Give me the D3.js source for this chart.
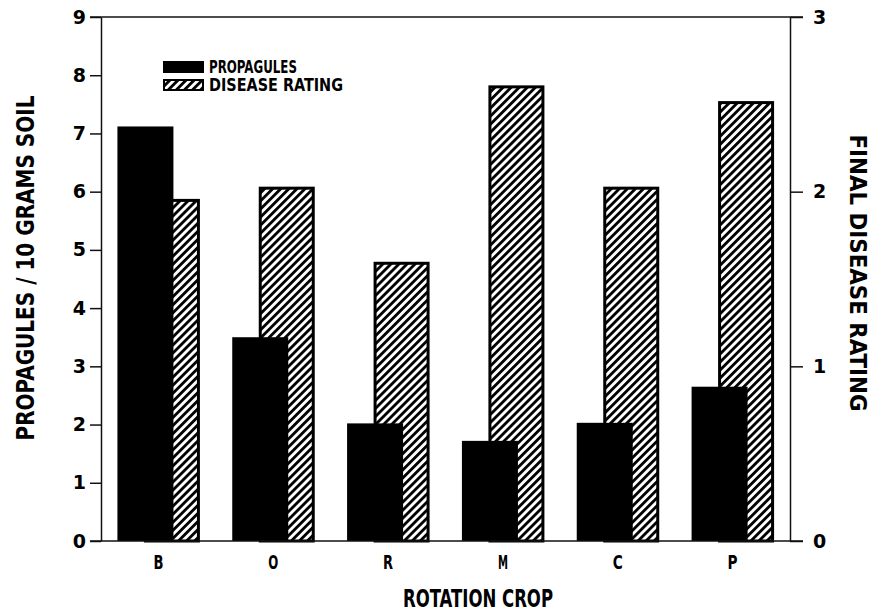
<!DOCTYPE html>
<html>
<head>
<meta charset="utf-8">
<script src="https://cdn.jsdelivr.net/npm/d3@7"></script>
<style>
  body { margin: 0; background: #fff; }
  svg { display: block; }
  .tick text { font-family: "DejaVu Sans", "Liberation Sans", sans-serif; font-weight: bold; }
</style>
</head>
<body>
<div id="chart"></div>
<script>
// data
const crops = ["B", "O", "R", "M", "C", "P"];
const propagules = [7.12, 3.5, 2.02, 1.72, 2.03, 2.65];      // left axis
const diseaseRating = [1.95, 2.02, 1.59, 2.6, 2.02, 2.51];    // right axis
const leftTicks = [0, 1, 2, 3, 4, 5, 6, 7, 8, 9];
const rightTicks = [0, 1, 2, 3];

const width = 873;
const height = 612;
const plotLeft = 101, plotRight = 790, plotTop = 17, plotBottom = 541;
const condensed = '"DejaVu Sans Condensed", "Liberation Sans Narrow", sans-serif';

const svg = d3.select("#chart").append("svg").attr("width", width).attr("height", height);

// hatch pattern "/"
svg.append("defs").append("pattern")
    .attr("id", "hatch")
    .attr("patternUnits", "userSpaceOnUse")
    .attr("width", 5.7).attr("height", 10)
    .attr("patternTransform", "rotate(45)")
  .append("rect")
    .attr("width", 2.8).attr("height", 10)
    .attr("fill", "#000");

const x = d3.scaleBand().domain(crops).range([plotLeft, plotRight]);
const yL = d3.scaleLinear().domain([0, 9]).range([plotBottom, plotTop]);
const yR = d3.scaleLinear().domain([0, 3]).range([plotBottom, plotTop]);

const rows = crops.map((c, i) => ({ crop: c, prop: propagules[i], rating: diseaseRating[i] }));
const mid = (d) => x(d.crop) + x.bandwidth() / 2;

// hatched bars (behind)
svg.append("g").selectAll("rect")
  .data(rows)
  .join("rect")
    .attr("x", (d) => mid(d) - 13)
    .attr("width", 53)
    .attr("y", (d) => yR(d.rating))
    .attr("height", (d) => plotBottom - yR(d.rating))
    .attr("fill", "url(#hatch)")
    .attr("stroke", "#000")
    .attr("stroke-width", 3);

// black bars (front)
svg.append("g").selectAll("rect")
  .data(rows)
  .join("rect")
    .attr("x", (d) => mid(d) - 41)
    .attr("width", 56)
    .attr("y", (d) => yL(d.prop))
    .attr("height", (d) => plotBottom - yL(d.prop))
    .attr("fill", "#000");

// axes
const axisL = svg.append("g")
    .attr("transform", `translate(${plotLeft},0)`)
    .call(d3.axisLeft(yL).tickValues(leftTicks).tickFormat(d3.format("d"))
      .tickSize(11).tickPadding(4).tickSizeOuter(0));

const axisR = svg.append("g")
    .attr("transform", `translate(${plotRight},0)`)
    .call(d3.axisRight(yR).tickValues(rightTicks).tickFormat(d3.format("d"))
      .tickSize(13).tickPadding(10).tickSizeOuter(0));

[axisL, axisR].forEach((g) => {
  g.selectAll("path, line").attr("stroke", "#111").attr("stroke-width", 1.5);
  g.selectAll("text").attr("fill", "#000").style("font-size", "19px");
});

// top and bottom frame lines
svg.append("g").selectAll("line")
  .data([plotTop, plotBottom])
  .join("line")
    .attr("x1", 90).attr("x2", 803)
    .attr("y1", (d) => d).attr("y2", (d) => d)
    .attr("stroke", "#111")
    .attr("stroke-width", 1.5);

// category labels
svg.append("g").selectAll("text")
  .data(crops)
  .join("text")
    .attr("x", (d) => x(d) + x.bandwidth() / 2)
    .attr("y", 569)
    .attr("text-anchor", "middle")
    .attr("textLength", 10).attr("lengthAdjust", "spacingAndGlyphs")
    .style("font-family", condensed)
    .style("font-weight", "bold")
    .style("font-size", "20px")
    .text((d) => d);

// axis titles
svg.append("text")
    .attr("transform", "translate(34,268) rotate(-90)")
    .attr("text-anchor", "middle")
    .attr("textLength", 345).attr("lengthAdjust", "spacingAndGlyphs")
    .style("font-family", condensed)
    .style("font-weight", "bold")
    .style("font-size", "25px")
    .text("PROPAGULES / 10 GRAMS SOIL");

svg.append("text")
    .attr("transform", "translate(850,273) rotate(90)")
    .attr("text-anchor", "middle")
    .attr("textLength", 277).attr("lengthAdjust", "spacingAndGlyphs")
    .style("font-family", condensed)
    .style("font-weight", "bold")
    .style("font-size", "23px")
    .text("FINAL DISEASE RATING");

svg.append("text")
    .attr("x", 478).attr("y", 607)
    .attr("text-anchor", "middle")
    .attr("textLength", 150).attr("lengthAdjust", "spacingAndGlyphs")
    .style("font-family", condensed)
    .style("font-weight", "bold")
    .style("font-size", "25px")
    .text("ROTATION CROP");

// legend
const legend = svg.append("g").attr("transform", "translate(163,61)");
legend.append("rect").attr("x", 0).attr("y", 0).attr("width", 41).attr("height", 12).attr("fill", "#000");
legend.append("rect").attr("x", 1).attr("y", 19).attr("width", 39).attr("height", 10)
    .attr("fill", "url(#hatch)").attr("stroke", "#000").attr("stroke-width", 2);
legend.selectAll("text")
  .data(["PROPAGULES", "DISEASE RATING"])
  .join("text")
    .attr("x", 46)
    .attr("y", (d, i) => 12 + i * 18)
    .attr("textLength", (d, i) => [88, 134][i]).attr("lengthAdjust", "spacingAndGlyphs")
    .style("font-family", condensed)
    .style("font-weight", "bold")
    .style("font-size", "17px")
    .text((d) => d);
</script>
</body>
</html>
